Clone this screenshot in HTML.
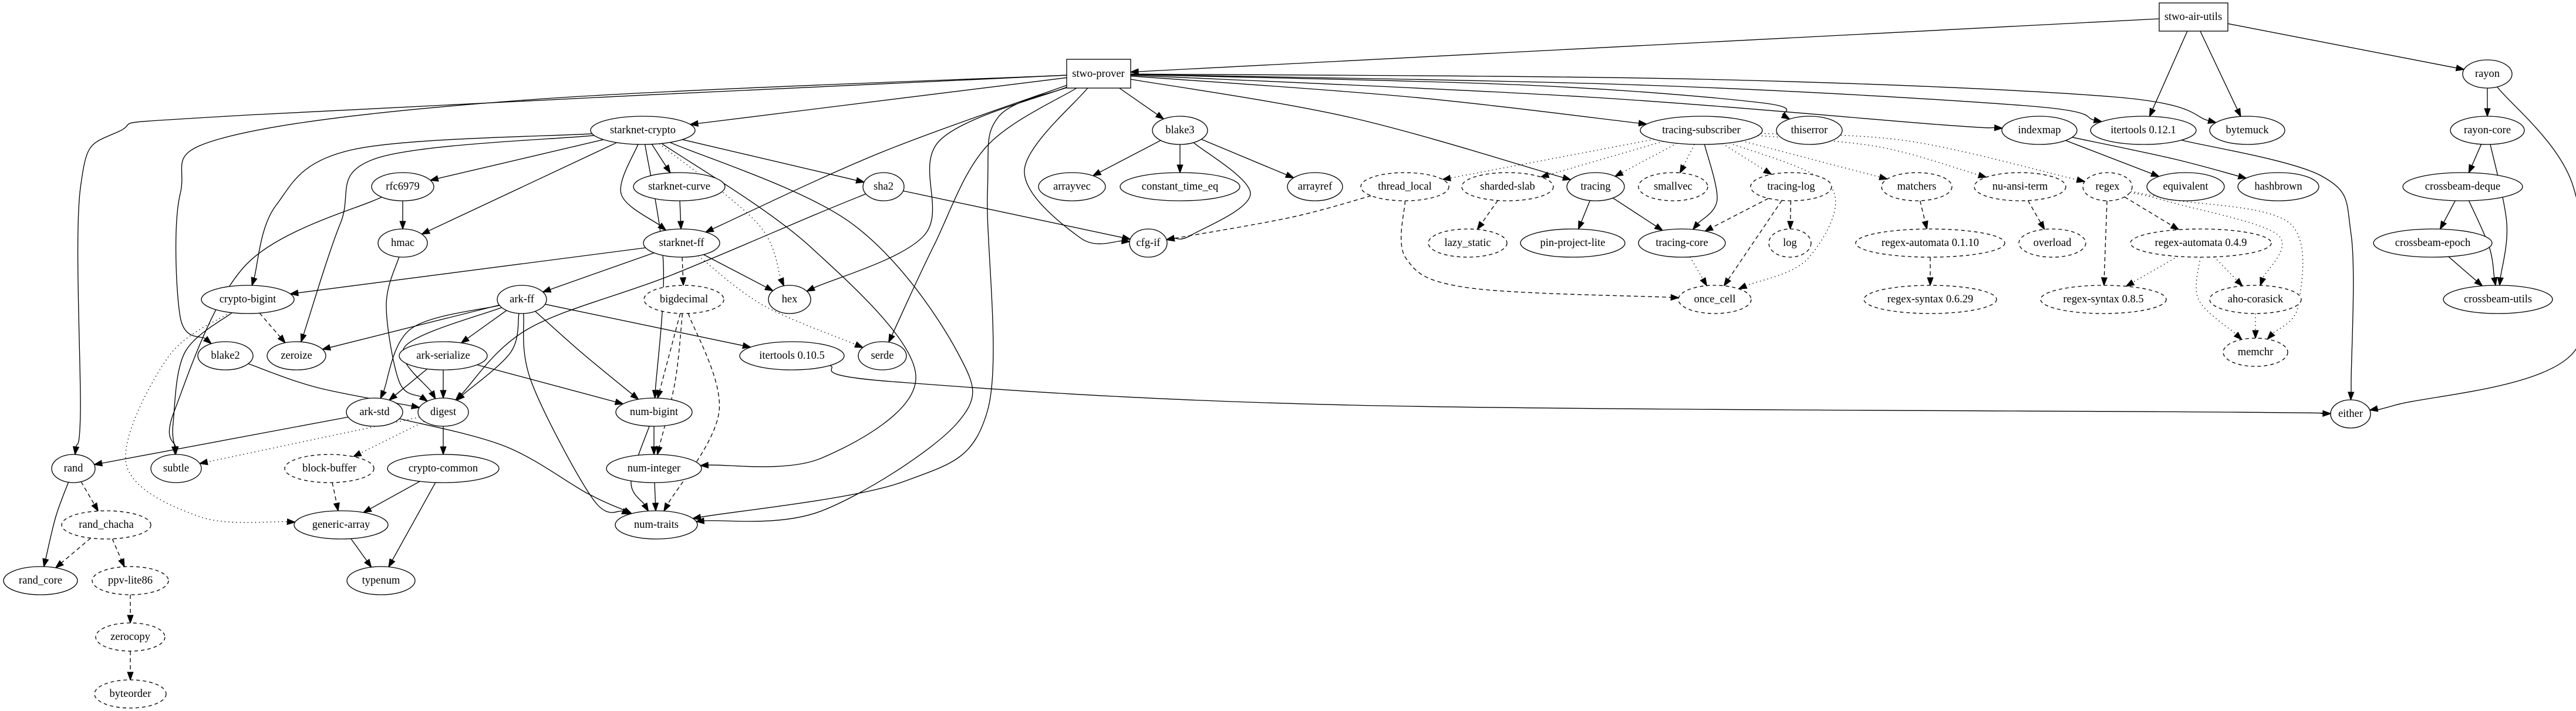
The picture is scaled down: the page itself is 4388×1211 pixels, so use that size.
<!DOCTYPE html>
<html><head><meta charset="utf-8"><style>
html,body{margin:0;padding:0;background:#fff;}
svg{display:block;}
text{font-family:"Liberation Serif",serif;font-size:18.5px;text-anchor:middle;dominant-baseline:central;fill:#000;}
ellipse,rect{fill:#fff;stroke:#000;stroke-width:1.33;}
.d ellipse{stroke-dasharray:6,5;}
</style></head><body>
<svg id="s" width="4388" height="1211" viewBox="0 0 4388 1211" xmlns="http://www.w3.org/2000/svg">
<g id="edges"></g>
<g id="nodes">
<g id="stwo-air-utils"><rect x="3678" y="5" width="117" height="48"/><text x="3736" y="29">stwo-air-utils</text></g>
<g id="stwo-prover"><rect x="1817" y="101" width="109" height="49"/><text x="1871" y="126">stwo-prover</text></g>
<g id="rayon"><ellipse cx="4237" cy="126" rx="42" ry="24"/><text x="4237" y="126">rayon</text></g>

<g id="starknet-crypto"><ellipse cx="1095" cy="222" rx="89" ry="24"/><text x="1095" y="222">starknet-crypto</text></g>
<g id="blake3"><ellipse cx="2010" cy="222" rx="47" ry="24"/><text x="2010" y="222">blake3</text></g>
<g id="tracing-subscriber"><ellipse cx="2898" cy="222" rx="104" ry="24"/><text x="2898" y="222">tracing-subscriber</text></g>
<g id="thiserror"><ellipse cx="3082" cy="222" rx="56" ry="24"/><text x="3082" y="222">thiserror</text></g>
<g id="indexmap"><ellipse cx="3474" cy="222" rx="64" ry="24"/><text x="3474" y="222">indexmap</text></g>
<g id="itertools12"><ellipse cx="3651" cy="222" rx="90" ry="24"/><text x="3651" y="222">itertools 0.12.1</text></g>
<g id="bytemuck"><ellipse cx="3828" cy="222" rx="64" ry="24"/><text x="3828" y="222">bytemuck</text></g>
<g id="rayon-core"><ellipse cx="4237" cy="222" rx="63" ry="24"/><text x="4237" y="222">rayon-core</text></g>

<g id="rfc6979"><ellipse cx="686" cy="318" rx="53" ry="24"/><text x="686" y="318">rfc6979</text></g>
<g id="starknet-curve"><ellipse cx="1157" cy="318" rx="78" ry="24"/><text x="1157" y="318">starknet-curve</text></g>
<g id="sha2"><ellipse cx="1505" cy="318" rx="35" ry="24"/><text x="1505" y="318">sha2</text></g>
<g id="arrayvec"><ellipse cx="1826" cy="318" rx="57" ry="24"/><text x="1826" y="318">arrayvec</text></g>
<g id="constant_time_eq"><ellipse cx="2010" cy="318" rx="102" ry="24"/><text x="2010" y="318">constant_time_eq</text></g>
<g id="arrayref"><ellipse cx="2240" cy="318" rx="47" ry="24"/><text x="2240" y="318">arrayref</text></g>
<g id="thread_local" class="d"><ellipse cx="2393" cy="318" rx="75" ry="24"/><text x="2393" y="318">thread_local</text></g>
<g id="sharded-slab" class="d"><ellipse cx="2568" cy="318" rx="78" ry="24"/><text x="2568" y="318">sharded-slab</text></g>
<g id="tracing"><ellipse cx="2718" cy="318" rx="49" ry="24"/><text x="2718" y="318">tracing</text></g>
<g id="smallvec" class="d"><ellipse cx="2850" cy="318" rx="59" ry="24"/><text x="2850" y="318">smallvec</text></g>
<g id="tracing-log" class="d"><ellipse cx="3051" cy="318" rx="69" ry="24"/><text x="3051" y="318">tracing-log</text></g>
<g id="matchers" class="d"><ellipse cx="3265" cy="318" rx="60" ry="24"/><text x="3265" y="318">matchers</text></g>
<g id="nu-ansi-term" class="d"><ellipse cx="3441" cy="318" rx="78" ry="24"/><text x="3441" y="318">nu-ansi-term</text></g>
<g id="regex" class="d"><ellipse cx="3590" cy="318" rx="42" ry="24"/><text x="3590" y="318">regex</text></g>
<g id="equivalent"><ellipse cx="3723" cy="318" rx="66" ry="24"/><text x="3723" y="318">equivalent</text></g>
<g id="hashbrown"><ellipse cx="3881" cy="318" rx="69" ry="24"/><text x="3881" y="318">hashbrown</text></g>
<g id="crossbeam-deque"><ellipse cx="4195" cy="318" rx="102" ry="24"/><text x="4195" y="318">crossbeam-deque</text></g>

<g id="hmac"><ellipse cx="686" cy="414" rx="42" ry="24"/><text x="686" y="414">hmac</text></g>
<g id="starknet-ff"><ellipse cx="1161" cy="414" rx="65" ry="24"/><text x="1161" y="414">starknet-ff</text></g>
<g id="cfg-if"><ellipse cx="1956" cy="414" rx="32" ry="24"/><text x="1956" y="414">cfg-if</text></g>
<g id="lazy_static" class="d"><ellipse cx="2500" cy="414" rx="67" ry="24"/><text x="2500" y="414">lazy_static</text></g>
<g id="pin-project-lite"><ellipse cx="2679" cy="414" rx="89" ry="24"/><text x="2679" y="414">pin-project-lite</text></g>
<g id="tracing-core"><ellipse cx="2865" cy="414" rx="74" ry="24"/><text x="2865" y="414">tracing-core</text></g>
<g id="log" class="d"><ellipse cx="3049" cy="414" rx="36" ry="24"/><text x="3049" y="414">log</text></g>
<g id="ra0110" class="d"><ellipse cx="3288" cy="414" rx="127" ry="24"/><text x="3288" y="414">regex-automata 0.1.10</text></g>
<g id="overload" class="d"><ellipse cx="3496" cy="414" rx="57" ry="24"/><text x="3496" y="414">overload</text></g>
<g id="ra049" class="d"><ellipse cx="3749" cy="414" rx="120" ry="24"/><text x="3749" y="414">regex-automata 0.4.9</text></g>
<g id="crossbeam-epoch"><ellipse cx="4144" cy="414" rx="101" ry="24"/><text x="4144" y="414">crossbeam-epoch</text></g>

<g id="crypto-bigint"><ellipse cx="422" cy="510" rx="79" ry="24"/><text x="422" y="510">crypto-bigint</text></g>
<g id="ark-ff"><ellipse cx="889" cy="510" rx="42" ry="24"/><text x="889" y="510">ark-ff</text></g>
<g id="bigdecimal" class="d"><ellipse cx="1165" cy="510" rx="68" ry="24"/><text x="1165" y="510">bigdecimal</text></g>
<g id="hex"><ellipse cx="1345" cy="510" rx="36" ry="24"/><text x="1345" y="510">hex</text></g>
<g id="once_cell" class="d"><ellipse cx="2921" cy="510" rx="62" ry="24"/><text x="2921" y="510">once_cell</text></g>
<g id="rs0629" class="d"><ellipse cx="3288" cy="510" rx="113" ry="24"/><text x="3288" y="510">regex-syntax 0.6.29</text></g>
<g id="rs085" class="d"><ellipse cx="3583" cy="510" rx="107" ry="24"/><text x="3583" y="510">regex-syntax 0.8.5</text></g>
<g id="aho-corasick" class="d"><ellipse cx="3842" cy="510" rx="78" ry="24"/><text x="3842" y="510">aho-corasick</text></g>
<g id="crossbeam-utils"><ellipse cx="4255" cy="510" rx="93" ry="24"/><text x="4255" y="510">crossbeam-utils</text></g>

<g id="blake2"><ellipse cx="384" cy="606" rx="47" ry="24"/><text x="384" y="606">blake2</text></g>
<g id="zeroize"><ellipse cx="505" cy="606" rx="50" ry="24"/><text x="505" y="606">zeroize</text></g>
<g id="ark-serialize"><ellipse cx="755" cy="606" rx="75" ry="24"/><text x="755" y="606">ark-serialize</text></g>
<g id="itertools10"><ellipse cx="1349" cy="606" rx="89" ry="24"/><text x="1349" y="606">itertools 0.10.5</text></g>
<g id="serde"><ellipse cx="1503" cy="606" rx="41" ry="24"/><text x="1503" y="606">serde</text></g>
<g id="memchr" class="d"><ellipse cx="3842" cy="600" rx="55" ry="24"/><text x="3842" y="600">memchr</text></g>

<g id="ark-std"><ellipse cx="638" cy="702" rx="48" ry="24"/><text x="638" y="702">ark-std</text></g>
<g id="digest"><ellipse cx="755" cy="702" rx="43" ry="24"/><text x="755" y="702">digest</text></g>
<g id="num-bigint"><ellipse cx="1114" cy="702" rx="65" ry="24"/><text x="1114" y="702">num-bigint</text></g>
<g id="either"><ellipse cx="4004" cy="705" rx="34" ry="24"/><text x="4004" y="705">either</text></g>

<g id="rand"><ellipse cx="125" cy="798" rx="37" ry="24"/><text x="125" y="798">rand</text></g>
<g id="subtle"><ellipse cx="300" cy="798" rx="43" ry="24"/><text x="300" y="798">subtle</text></g>
<g id="block-buffer" class="d"><ellipse cx="561" cy="798" rx="76" ry="24"/><text x="561" y="798">block-buffer</text></g>
<g id="crypto-common"><ellipse cx="755" cy="798" rx="95" ry="24"/><text x="755" y="798">crypto-common</text></g>
<g id="num-integer"><ellipse cx="1114" cy="798" rx="81" ry="24"/><text x="1114" y="798">num-integer</text></g>

<g id="rand_chacha" class="d"><ellipse cx="181" cy="894" rx="76" ry="24"/><text x="181" y="894">rand_chacha</text></g>
<g id="generic-array"><ellipse cx="581" cy="894" rx="80" ry="24"/><text x="581" y="894">generic-array</text></g>
<g id="num-traits"><ellipse cx="1118" cy="894" rx="70" ry="24"/><text x="1118" y="894">num-traits</text></g>

<g id="rand_core"><ellipse cx="69" cy="989" rx="63" ry="24"/><text x="69" y="989">rand_core</text></g>
<g id="ppv-lite86" class="d"><ellipse cx="222" cy="989" rx="65" ry="24"/><text x="222" y="989">ppv-lite86</text></g>
<g id="typenum"><ellipse cx="649" cy="989" rx="58" ry="24"/><text x="649" y="989">typenum</text></g>
<g id="zerocopy" class="d"><ellipse cx="222" cy="1085" rx="59" ry="24"/><text x="222" y="1085">zerocopy</text></g>
<g id="byteorder" class="d"><ellipse cx="222" cy="1182" rx="61" ry="24"/><text x="222" y="1182">byteorder</text></g>
</g>
</svg>
<script>
(function(){
function geo(id){var g=document.getElementById(id),e=g.firstElementChild;
 if(e.tagName==='rect'){var x=+e.getAttribute('x'),y=+e.getAttribute('y'),w=+e.getAttribute('width'),h=+e.getAttribute('height');return{x:x+w/2,y:y+h/2,rx:w/2,ry:h/2,rect:1};}
 return{x:+e.getAttribute('cx'),y:+e.getAttribute('cy'),rx:+e.getAttribute('rx'),ry:+e.getAttribute('ry')};}
function bnd(n,tx,ty){var dx=tx-n.x,dy=ty-n.y;if(!dx&&!dy)return[n.x,n.y];
 var t;if(n.rect){t=Math.min(Math.abs(dx)>0?n.rx/Math.abs(dx):1e9,Math.abs(dy)>0?n.ry/Math.abs(dy):1e9);}
 else t=1/Math.sqrt(dx*dx/(n.rx*n.rx)+dy*dy/(n.ry*n.ry));return[n.x+dx*t,n.y+dy*t];}
var E=[
['stwo-air-utils','stwo-prover','s',[]],
['stwo-air-utils','itertools12','s',[]],
['stwo-air-utils','bytemuck','s',[]],
['stwo-air-utils','rayon','s',[]],
['stwo-prover','rand','s',[[420,196],[200,225],[137,320],[137,700]]],
['stwo-prover','blake2','s',[[900,170],[380,235],[307,330],[307,540]]],
['stwo-prover','starknet-crypto','s',[]],
['stwo-prover','starknet-ff','s',[[1500,260]]],
['stwo-prover','hex','s',[[1600,240],[1575,400]]],
['stwo-prover','serde','s',[[1680,250],[1590,420]]],
['stwo-prover','num-traits','s',[[1700,200],[1682,330],[1682,700],[1540,820]]],
['stwo-prover','cfg-if','s',[[1745,290],[1840,405]]],
['stwo-prover','blake3','s',[]],
['stwo-prover','tracing-subscriber','s',[[2400,165]]],
['stwo-prover','tracing','s',[[2300,200]]],
['stwo-prover','thiserror','s',[[2600,145],[3000,175]]],
['stwo-prover','indexmap','s',[[2700,165],[3300,212]]],
['stwo-prover','itertools12','s',[[2800,145],[3450,180]]],
['stwo-prover','bytemuck','s',[[2900,135],[3600,165]]],
['starknet-crypto','rfc6979','s',[]],
['starknet-crypto','hmac','s',[]],
['starknet-crypto','crypto-bigint','s',[[600,255],[470,350]]],
['starknet-crypto','zeroize','s',[[640,270],[580,380]]],
['starknet-crypto','starknet-curve','s',[]],
['starknet-crypto','starknet-ff','s',[[1058,330]]],
['starknet-crypto','sha2','s',[]],
['starknet-crypto','hex','o',[[1290,380]]],
['starknet-crypto','num-bigint','s',[[1130,450]]],
['starknet-crypto','num-integer','s',[[1380,420],[1560,640],[1400,780]]],
['starknet-crypto','num-traits','s',[[1450,380],[1631,600],[1631,720],[1400,870]]],
['rfc6979','hmac','s',[]],
['rfc6979','subtle','s',[[420,450],[297,700]]],
['hmac','digest','s',[[658,520],[680,650]]],
['starknet-curve','starknet-ff','s',[]],
['sha2','cfg-if','s',[]],
['sha2','digest','s',[[1390,365],[1140,470],[900,560]]],
['starknet-ff','crypto-bigint','s',[]],
['starknet-ff','ark-ff','s',[]],
['starknet-ff','bigdecimal','d',[]],
['starknet-ff','hex','s',[]],
['starknet-ff','serde','o',[[1300,520]]],
['crypto-bigint','subtle','s',[[315,600],[295,720]]],
['crypto-bigint','zeroize','d',[]],
['crypto-bigint','generic-array','o',[[285,610],[215,790],[340,880]]],
['ark-ff','zeroize','s',[]],
['ark-ff','ark-serialize','s',[]],
['ark-ff','ark-std','s',[[700,560]]],
['ark-ff','digest','s',[[690,590]]],
['ark-ff','digest','s',[[870,600]]],
['ark-ff','num-bigint','s',[[990,600]]],
['ark-ff','num-traits','s',[[905,650],[1010,850]]],
['ark-ff','itertools10','s',[]],
['ark-serialize','ark-std','s',[]],
['ark-serialize','digest','s',[]],
['ark-serialize','num-bigint','s',[]],
['blake2','digest','s',[[540,660]]],
['ark-std','rand','s',[]],
['ark-std','num-traits','s',[[860,760],[1000,840]]],
['digest','subtle','o',[]],
['digest','block-buffer','o',[]],
['digest','crypto-common','s',[]],
['block-buffer','generic-array','d',[]],
['crypto-common','generic-array','s',[]],
['crypto-common','typenum','s',[]],
['generic-array','typenum','s',[]],
['rand','rand_core','s',[[95,880]]],
['rand','rand_chacha','d',[]],
['rand_chacha','rand_core','d',[]],
['rand_chacha','ppv-lite86','d',[]],
['ppv-lite86','zerocopy','d',[]],
['zerocopy','byteorder','d',[]],
['num-bigint','num-integer','s',[]],
['num-bigint','num-traits','s',[[1075,820]]],
['num-integer','num-traits','s',[]],
['bigdecimal','num-bigint','d',[]],
['bigdecimal','num-integer','d',[[1150,650]]],
['bigdecimal','num-traits','d',[[1225,700]]],
['itertools10','either','s',[[1520,650],[2300,690],[3800,702]]],
['blake3','arrayvec','s',[]],
['blake3','constant_time_eq','s',[]],
['blake3','arrayref','s',[]],
['blake3','cfg-if','s',[[2130,330],[2030,400]]],
['tracing-subscriber','thread_local','o',[]],
['tracing-subscriber','sharded-slab','o',[]],
['tracing-subscriber','tracing','o',[]],
['tracing-subscriber','smallvec','o',[]],
['tracing-subscriber','tracing-core','s',[[2925,340]]],
['tracing-subscriber','tracing-log','o',[]],
['tracing-subscriber','once_cell','o',[[3120,320],[3080,440]]],
['tracing-subscriber','matchers','o',[]],
['tracing-subscriber','nu-ansi-term','o',[[3200,250]]],
['tracing-subscriber','regex','o',[[3250,240]]],
['thread_local','cfg-if','d',[[2200,370]]],
['thread_local','once_cell','d',[[2395,440],[2500,490]]],
['sharded-slab','lazy_static','d',[]],
['tracing','pin-project-lite','s',[]],
['tracing','tracing-core','s',[]],
['tracing-log','tracing-core','d',[]],
['tracing-log','log','d',[]],
['tracing-log','once_cell','d',[]],
['tracing-core','once_cell','o',[]],
['matchers','ra0110','d',[]],
['ra0110','rs0629','d',[]],
['nu-ansi-term','overload','d',[]],
['regex','rs085','d',[]],
['regex','ra049','d',[]],
['regex','aho-corasick','o',[[3700,345],[3880,400]]],
['regex','memchr','o',[[3700,340],[3900,380],[3915,520]]],
['ra049','rs085','o',[]],
['ra049','aho-corasick','o',[]],
['ra049','memchr','o',[[3745,510]]],
['aho-corasick','memchr','o',[]],
['indexmap','equivalent','s',[]],
['indexmap','hashbrown','s',[[3700,270]]],
['itertools12','either','s',[[3955,300],[4005,400],[4005,650]]],
['rayon','rayon-core','s',[]],
['rayon','either','s',[[4384,320],[4384,600],[4080,690]]],
['rayon-core','crossbeam-deque','s',[]],
['rayon-core','crossbeam-utils','s',[[4270,380]]],
['crossbeam-deque','crossbeam-epoch','s',[]],
['crossbeam-deque','crossbeam-utils','s',[[4240,420]]],
['crossbeam-epoch','crossbeam-utils','s',[]]
];
var out='';
E.forEach(function(e){
 var a=geo(e[0]),b=geo(e[1]),w=e[3];
 var f=w.length?w[0]:[b.x,b.y],l=w.length?w[w.length-1]:[a.x,a.y];
 var p0=bnd(a,f[0],f[1]),pe=bnd(b,l[0],l[1]);
 var pts=[p0].concat(w,[pe]);
 // shorten end by arrow length
 var q=pts[pts.length-2],dx=pe[0]-q[0],dy=pe[1]-q[1],L=Math.sqrt(dx*dx+dy*dy)||1,ux=dx/L,uy=dy/L,AL=13;
 var end=[pe[0]-ux*AL,pe[1]-uy*AL];pts[pts.length-1]=end;
 var d='M'+pts[0][0].toFixed(1)+','+pts[0][1].toFixed(1);
 if(pts.length==2)d+=' L'+end[0].toFixed(1)+','+end[1].toFixed(1);
 else for(var i=0;i<pts.length-1;i++){
  var p_=pts[Math.max(i-1,0)],p1=pts[i],p2=pts[i+1],p3=pts[Math.min(i+2,pts.length-1)];
  var c1=[p1[0]+(p2[0]-p_[0])/6,p1[1]+(p2[1]-p_[1])/6],c2=[p2[0]-(p3[0]-p1[0])/6,p2[1]-(p3[1]-p1[1])/6];
  d+=' C'+c1[0].toFixed(1)+','+c1[1].toFixed(1)+' '+c2[0].toFixed(1)+','+c2[1].toFixed(1)+' '+p2[0].toFixed(1)+','+p2[1].toFixed(1);
 }
 var da=e[2]=='d'?' stroke-dasharray="7,5"':(e[2]=='o'?' stroke-dasharray="1.5,5"':'');
 out+='<path d="'+d+'" fill="none" stroke="#000" stroke-width="1.33"'+da+'/>';
 var px=-uy,py=ux,hw=4.7;
 out+='<polygon points="'+pe[0].toFixed(1)+','+pe[1].toFixed(1)+' '+(end[0]+px*hw).toFixed(1)+','+(end[1]+py*hw).toFixed(1)+' '+(end[0]-px*hw).toFixed(1)+','+(end[1]-py*hw).toFixed(1)+'" fill="#000" stroke="#000" stroke-width="1.33"/>';
});
document.getElementById('edges').innerHTML=out;
})();
</script>
</body></html>
